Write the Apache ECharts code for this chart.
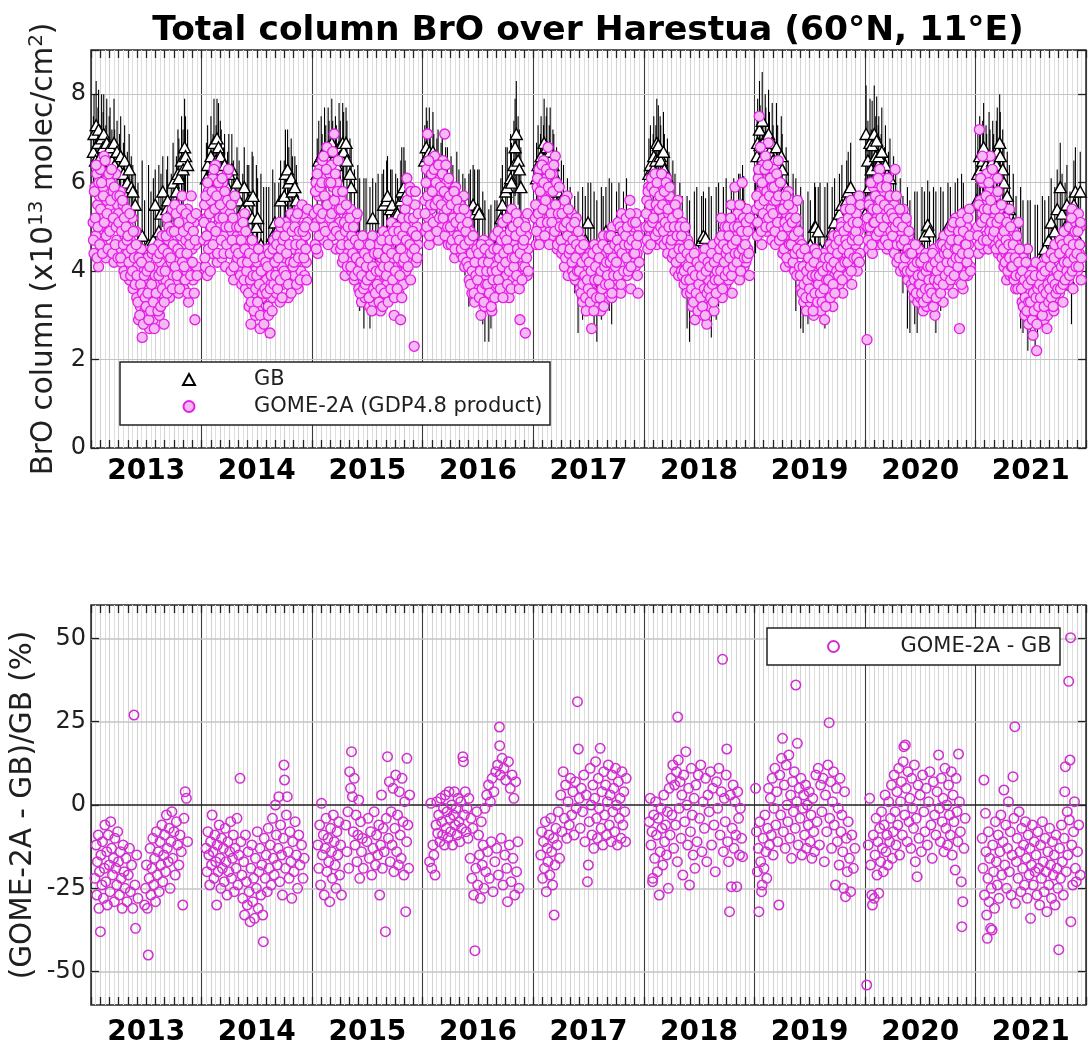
<!DOCTYPE html>
<html>
<head>
<meta charset="utf-8">
<title>Total column BrO over Harestua</title>
<script src="https://cdn.jsdelivr.net/npm/echarts@6/dist/echarts.min.js"></script>
<style>
  html, body { margin: 0; padding: 0; background: #ffffff; }
  #chart { width: 1089px; height: 1048px; }
</style>
</head>
<body>
<div id="chart"></div>
<script>
// ---------------------------------------------------------------
// Harestua BrO total columns: ground-based (GB) vs GOME-2A GDP4.8
// ---------------------------------------------------------------
const YEARS = [2013, 2014, 2015, 2016, 2017, 2018, 2019, 2020, 2021];
const COLUMN_TICKS = [0, 2, 4, 6, 8];          // x10^13 molec/cm^2
const DIFF_TICKS = [-50, -25, 0, 25, 50];      // percent

// GOME-2A overpass columns. Two samplings per year, each one value every 3 days:
// set "a" starts on day 8, set "b" on day 9.
const GOME_FIRST_DOY_A = 8;
const GOME_FIRST_DOY_B = 9;
const GOME_STEP_DAYS = 3;

const gome2013 = [
  5.1, 4.4, 5.9, 4.8, 6.2, 5.5, 4.1, 5.7,
  6.3, 5.2, 4.6, 5.9, 6.6, 5.0, 4.3, 5.6, 6.1, 4.9,
  5.4, 6.0, 4.5, 5.1, 5.8, 4.2, 5.3, 6.2, 4.7, 5.5,
  5.3, 4.5, 5.8, 4.2, 5.0, 5.5, 4.0, 4.8, 4.4, 5.4,
  4.4, 5.0, 3.8, 4.7, 4.1, 5.2, 3.6, 4.5, 4.2, 4.9,
  3.4, 4.1, 2.9, 3.8, 3.2, 4.5, 2.5, 3.6, 4.0, 3.1,
  3.7, 3.0, 4.3, 3.4, 2.7, 3.9, 3.3, 4.4, 2.9, 3.6, 3.8,
  4.1, 3.3, 3.7, 4.6, 3.0, 4.2, 3.5, 4.8, 3.8, 2.8,
  4.5, 3.8, 5.2, 4.1, 4.7, 3.4, 4.9, 4.2, 5.4, 3.9,
  4.6, 5.5, 3.7, 5.0, 4.3, 3.5, 5.2, 4.8, 4.0, 5.7,
  4.4, 3.6, 5.1, 4.7, 4.0, 5.4, 3.3, 4.8, 4.2, 5.7,
  4.5, 3.8, 5.1, 2.9, 4.6, 4.1
];
const gome2013b = [
  4.7, 5.8, 5.2, 6.4, 4.3, 5.0, 6.0, 4.6,
  5.4, 6.0, 4.4, 5.7, 5.1, 6.5, 4.8, 5.3, 4.5, 6.2,
  4.9, 5.6, 6.3, 4.4, 5.2, 5.9, 4.6, 5.0, 5.7, 4.3,
  5.1, 5.7, 4.3, 4.9, 5.6, 4.6, 5.2, 3.9, 5.0, 4.7,
  4.8, 4.2, 5.3, 3.9, 4.5, 4.0, 4.9, 4.3, 3.7, 4.6,
  3.9, 3.3, 4.3, 3.0, 3.7, 4.2, 3.5, 2.8, 3.9, 3.4,
  3.2, 4.0, 3.5, 2.9, 4.1, 3.1, 3.7, 4.5, 3.3, 2.7, 3.9,
  3.5, 4.3, 3.1, 3.9, 4.4, 3.2, 4.0, 3.6, 4.5, 3.3,
  4.0, 4.8, 3.5, 4.4, 5.0, 3.7, 4.3, 4.9, 3.6, 4.6,
  4.9, 4.1, 5.3, 3.9, 4.5, 5.1, 3.6, 4.4, 5.4, 4.2,
  4.9, 4.1, 3.8, 5.3, 4.4, 3.5, 5.0, 4.6, 3.9, 5.2,
  4.2, 4.9, 3.5, 4.7, 5.3, 3.9
];
const gome2014 = [
  4.7, 5.5, 4.1, 5.2, 3.9, 5.8, 4.6, 5.0,
  5.6, 4.4, 6.1, 5.0, 4.7, 6.4, 5.3, 4.2, 5.9, 5.1,
  5.0, 5.7, 4.3, 6.0, 4.8, 5.4, 4.1, 5.2, 6.2, 4.6,
  4.5, 5.3, 4.0, 4.9, 5.6, 3.8, 4.7, 5.1, 4.2, 4.8,
  4.7, 4.0, 5.2, 4.4, 3.7, 4.9, 4.2, 5.3, 3.6, 4.6,
  3.9, 4.5, 3.2, 4.2, 2.8, 3.7, 4.6, 3.5, 4.0, 3.0,
  3.6, 4.2, 3.1, 3.9, 2.7, 4.4, 3.4, 3.8, 3.0, 4.1, 3.5,
  3.8, 4.5, 3.2, 4.0, 2.6, 3.7, 4.3, 3.4, 4.7, 3.9,
  4.2, 3.5, 4.8, 3.9, 4.4, 3.3, 5.0, 4.1, 3.7, 4.6,
  4.3, 5.1, 3.8, 4.6, 3.4, 4.9, 4.0, 5.3, 3.6, 4.5,
  4.5, 3.9, 5.2, 4.2, 4.8, 3.6, 5.4, 4.4, 4.0, 5.0,
  4.6, 5.3, 3.9, 4.8, 4.2, 5.1
];
const gome2014b = [
  5.1, 4.3, 5.7, 4.8, 6.0, 4.5, 5.3, 4.0,
  5.0, 5.8, 4.6, 6.3, 5.4, 4.9, 5.7, 4.4, 6.0, 5.2,
  5.5, 4.7, 6.1, 5.2, 4.4, 5.8, 5.0, 4.6, 5.6, 6.3,
  5.0, 4.4, 5.5, 4.7, 5.2, 4.1, 5.7, 4.5, 5.0, 4.3,
  4.4, 5.0, 3.9, 4.7, 4.2, 5.1, 3.8, 4.5, 4.9, 4.0,
  4.2, 3.5, 4.4, 3.8, 3.3, 4.7, 3.9, 3.1, 4.3, 3.6,
  3.9, 3.3, 4.5, 3.7, 3.0, 4.0, 3.5, 4.3, 2.8, 3.6, 4.2,
  3.5, 4.1, 3.0, 4.4, 3.6, 3.9, 3.1, 4.5, 3.7, 4.2,
  3.9, 4.6, 3.6, 4.3, 5.1, 3.8, 4.5, 3.4, 4.7, 4.0,
  4.8, 3.9, 4.4, 5.0, 3.7, 4.6, 4.2, 3.5, 4.9, 4.1,
  4.2, 5.0, 4.6, 3.7, 5.3, 4.3, 4.9, 3.8, 4.6, 5.5,
  4.9, 4.3, 5.0, 4.5, 3.8, 5.4
];
const gome2015 = [
  5.3, 4.6, 6.0, 5.1, 4.4, 5.7, 6.3, 4.9,
  5.8, 6.5, 5.0, 4.7, 6.1, 5.4, 6.8, 4.9, 5.6, 6.2,
  5.5, 6.4, 4.8, 5.9, 7.1, 5.2, 4.5, 6.0, 5.7, 5.0,
  5.1, 4.5, 5.6, 4.2, 4.9, 5.4, 3.9, 4.7, 5.2, 4.4,
  4.9, 4.3, 5.4, 4.0, 4.7, 5.1, 3.8, 4.5, 5.2, 4.2,
  4.3, 3.6, 4.7, 4.0, 3.3, 4.5, 3.8, 4.1, 3.4, 4.6,
  4.0, 3.5, 4.4, 3.2, 4.2, 3.7, 4.8, 3.3, 3.9, 4.5, 3.6,
  4.1, 3.4, 4.6, 3.8, 3.1, 4.3, 3.6, 4.9, 3.9, 3.3,
  4.2, 3.7, 4.8, 3.4, 4.5, 3.9, 5.1, 3.5, 4.3, 3.0,
  4.4, 3.8, 5.0, 4.1, 3.5, 4.7, 2.9, 4.2, 5.2, 3.7,
  4.6, 5.4, 4.0, 6.1, 4.8, 4.3, 5.9, 3.8, 5.1, 4.5,
  4.9, 2.3, 5.5, 4.2, 5.0, 4.6
];
const gome2015b = [
  5.0, 5.8, 4.5, 6.2, 5.4, 4.8, 5.9, 5.2,
  6.0, 5.3, 6.6, 5.7, 4.9, 6.3, 5.5, 4.6, 6.0, 5.2,
  6.0, 5.3, 6.7, 5.0, 5.6, 6.2, 4.9, 5.8, 6.5, 5.4,
  4.8, 5.4, 4.6, 5.8, 4.3, 5.1, 4.9, 5.5, 4.1, 5.0,
  4.6, 5.2, 4.1, 4.8, 4.4, 5.0, 3.9, 4.7, 4.3, 5.3,
  4.0, 4.6, 3.5, 4.2, 3.9, 4.8, 3.6, 4.4, 3.7, 4.1,
  3.8, 4.3, 3.4, 4.6, 3.9, 3.1, 4.1, 3.6, 4.4, 3.5, 4.0,
  3.7, 4.4, 3.3, 4.0, 3.6, 4.7, 3.2, 4.1, 3.5, 4.3,
  3.9, 4.5, 3.3, 4.1, 4.7, 3.6, 4.4, 3.8, 4.9, 3.4,
  4.0, 4.7, 3.6, 4.3, 4.9, 3.9, 4.5, 3.4, 4.8, 4.2,
  4.3, 5.0, 4.7, 5.6, 4.1, 5.2, 4.6, 5.8, 4.4, 4.9,
  5.2, 4.5, 5.8, 4.8, 4.3, 5.3
];
const gome2016 = [
  5.6, 4.9, 6.3, 7.1, 5.2, 4.6, 6.0, 5.4,
  6.2, 5.5, 4.8, 6.6, 5.9, 5.1, 6.4, 4.7, 5.7, 6.1,
  5.8, 5.0, 6.5, 5.3, 7.1, 4.9, 6.0, 5.6, 4.6, 5.4,
  5.2, 4.6, 5.7, 4.9, 5.4, 4.3, 5.9, 5.0, 4.5, 5.3,
  5.0, 5.5, 4.4, 5.2, 4.7, 5.7, 4.1, 4.9, 5.3, 4.3,
  4.4, 3.8, 4.9, 4.1, 3.5, 4.6, 4.0, 3.3, 4.3, 3.7,
  4.1, 3.5, 4.5, 3.8, 3.0, 4.3, 3.6, 4.7, 3.2, 3.9, 4.2,
  4.0, 3.4, 4.6, 3.7, 4.3, 3.1, 4.1, 3.6, 4.8, 3.9,
  4.3, 3.7, 4.9, 4.0, 3.5, 4.6, 3.9, 5.1, 4.2, 3.6,
  4.5, 3.9, 5.2, 4.2, 3.4, 4.8, 4.0, 5.4, 3.8, 4.4,
  4.6, 4.0, 5.3, 3.7, 4.9, 4.3, 2.9, 5.0, 4.1, 4.7,
  4.4, 5.1, 2.6, 4.8, 3.9, 4.5
];
const gome2016b = [
  5.3, 6.0, 5.0, 5.7, 6.5, 4.8, 5.5, 6.2,
  5.8, 5.1, 6.3, 5.5, 6.0, 4.9, 5.6, 6.4, 5.2, 5.9,
  5.5, 6.2, 5.2, 5.8, 4.8, 6.4, 5.4, 5.0, 6.1, 5.7,
  5.0, 5.5, 4.7, 5.2, 5.8, 4.5, 5.1, 5.6, 4.8, 5.4,
  4.7, 5.2, 4.5, 5.0, 4.3, 5.4, 4.6, 4.9, 4.2, 5.1,
  4.1, 4.7, 3.7, 4.4, 4.0, 4.8, 3.5, 4.2, 3.9, 4.5,
  3.8, 4.4, 3.4, 4.0, 4.6, 3.6, 4.2, 3.3, 4.5, 3.7, 4.0,
  3.7, 4.2, 3.5, 4.4, 3.2, 4.0, 3.8, 4.5, 3.4, 4.1,
  4.0, 4.5, 3.8, 4.3, 3.6, 4.7, 4.1, 3.4, 4.4, 4.8,
  4.2, 4.7, 3.7, 4.5, 4.0, 4.9, 3.6, 4.3, 5.0, 4.1,
  4.3, 4.8, 3.9, 4.5, 5.1, 3.6, 4.4, 4.9, 3.8, 4.6,
  4.7, 4.1, 5.0, 4.3, 5.3, 4.0
];
const gome2017 = [
  5.2, 4.6, 5.9, 5.0, 6.3, 4.8, 5.5, 6.0,
  5.7, 6.5, 5.0, 4.7, 6.1, 5.4, 6.8, 5.2, 4.9, 5.8,
  5.5, 6.2, 4.8, 5.3, 6.6, 5.0, 4.5, 5.9, 5.2, 4.7,
  5.0, 4.4, 5.5, 4.7, 4.1, 5.2, 4.6, 5.7, 3.9, 4.8,
  4.8, 4.3, 5.3, 4.0, 5.0, 4.5, 3.8, 5.2, 4.4, 4.1,
  4.2, 3.6, 4.7, 3.9, 3.3, 4.4, 3.8, 4.1, 3.1, 4.5,
  3.9, 3.4, 4.4, 3.7, 2.7, 4.1, 3.5, 4.6, 3.2, 3.8, 4.3,
  4.0, 3.5, 4.5, 3.1, 4.2, 3.7, 4.8, 3.3, 3.9, 4.4,
  4.2, 3.6, 4.8, 3.9, 4.4, 3.4, 5.0, 4.0, 3.7, 4.6,
  4.4, 3.8, 5.1, 4.1, 4.7, 3.5, 5.3, 4.2, 3.9, 4.8,
  4.5, 5.2, 3.9, 4.7, 4.2, 5.6, 3.6, 4.9, 4.3, 5.0,
  4.7, 4.1, 5.3, 4.4, 3.5, 5.0
];
const gome2017b = [
  5.5, 4.9, 6.1, 5.3, 4.6, 5.8, 5.1, 6.4,
  5.4, 6.0, 4.8, 5.6, 6.3, 5.1, 5.9, 4.6, 6.2, 5.3,
  5.1, 5.8, 6.4, 4.9, 5.5, 6.0, 4.6, 5.3, 5.9, 5.0,
  4.7, 5.3, 4.5, 5.0, 5.6, 4.3, 5.1, 4.8, 5.4, 4.4,
  4.5, 5.0, 4.2, 4.7, 3.9, 5.1, 4.3, 4.6, 4.0, 4.9,
  4.0, 4.5, 3.5, 4.2, 3.7, 4.6, 3.9, 3.4, 4.3, 3.8,
  3.6, 4.2, 3.3, 4.0, 3.5, 4.4, 3.1, 3.8, 4.1, 3.4, 4.5,
  3.8, 4.3, 3.4, 4.0, 3.6, 4.6, 3.2, 4.1, 3.7, 4.2,
  3.9, 4.5, 3.7, 4.2, 4.8, 3.5, 4.3, 3.9, 4.6, 4.1,
  4.2, 4.7, 3.9, 4.5, 5.0, 3.7, 4.4, 4.9, 4.0, 4.6,
  4.8, 4.3, 5.0, 4.0, 4.6, 5.3, 4.1, 4.7, 5.1, 4.4,
  4.4, 5.1, 4.6, 3.9, 4.8, 4.2
];
const gome2018 = [
  5.0, 5.6, 4.5, 5.9, 5.2, 4.8, 6.1, 5.4,
  5.5, 4.9, 6.2, 5.3, 4.6, 5.8, 5.1, 6.0, 4.7, 5.6,
  5.2, 5.9, 4.6, 5.5, 4.9, 6.1, 4.4, 5.3, 5.7, 4.8,
  4.9, 4.3, 5.4, 4.6, 4.0, 5.1, 4.5, 5.6, 3.9, 4.7,
  4.6, 4.0, 5.1, 4.3, 3.7, 4.8, 4.2, 3.5, 4.7, 3.9,
  4.0, 3.5, 4.5, 3.2, 4.2, 3.7, 2.9, 4.1, 3.4, 3.8,
  3.9, 3.3, 4.4, 3.6, 4.1, 3.0, 3.8, 4.5, 3.4, 2.8, 4.0,
  3.8, 4.3, 3.2, 4.0, 3.6, 4.6, 3.1, 3.9, 4.4, 3.5,
  4.1, 3.6, 4.7, 3.9, 5.2, 3.4, 4.4, 4.0, 5.0, 3.7,
  4.3, 5.0, 3.8, 4.6, 4.1, 5.5, 3.5, 4.8, 4.2, 5.9,
  4.5, 4.0, 5.3, 4.7, 3.8, 5.1, 4.3, 6.0, 4.6, 4.1,
  4.8, 4.2, 5.4, 4.5, 5.0, 3.9
];
const gome2018b = [
  5.3, 4.7, 5.8, 5.0, 5.5, 4.6, 5.9, 5.1,
  5.2, 5.8, 4.8, 5.5, 6.0, 4.9, 5.4, 5.7, 5.0, 6.2,
  5.5, 4.9, 5.8, 5.1, 6.0, 4.7, 5.4, 5.0, 5.9, 4.6,
  4.7, 5.2, 4.4, 5.0, 5.5, 4.2, 4.8, 5.3, 4.5, 5.0,
  4.3, 4.8, 3.9, 4.5, 4.0, 5.0, 3.8, 4.4, 4.1, 4.6,
  3.8, 4.3, 3.6, 4.0, 3.3, 4.4, 3.9, 3.5, 4.2, 3.1,
  3.7, 4.1, 3.4, 3.9, 3.2, 4.3, 3.6, 3.0, 4.0, 3.5, 4.2,
  3.6, 4.1, 3.4, 4.4, 3.7, 3.3, 4.2, 3.8, 3.5, 4.0,
  4.3, 3.8, 4.5, 4.0, 4.8, 3.6, 4.6, 4.2, 3.9, 4.4,
  4.5, 4.0, 4.8, 4.3, 5.2, 3.9, 4.6, 4.1, 5.0, 4.4,
  4.7, 4.2, 5.0, 4.4, 5.5, 4.0, 4.9, 4.5, 5.2, 4.3,
  4.6, 5.1, 4.3, 4.9, 4.4, 5.2
];
const gome2019 = [
  5.4, 4.8, 6.1, 7.5, 5.1, 5.8, 4.6, 6.4,
  5.9, 5.2, 6.6, 4.9, 5.6, 6.9, 5.0, 6.2, 5.4, 4.7,
  5.6, 6.3, 5.0, 4.6, 5.9, 5.3, 6.5, 4.8, 5.5, 5.1,
  5.0, 4.4, 5.6, 4.8, 4.1, 5.3, 4.6, 5.8, 4.2, 4.9,
  4.9, 4.3, 5.4, 4.6, 4.0, 5.1, 4.4, 5.6, 3.9, 4.7,
  4.1, 3.6, 4.6, 3.9, 3.3, 4.4, 3.8, 3.1, 4.2, 3.5,
  3.9, 3.3, 4.3, 3.6, 4.0, 3.0, 4.5, 3.7, 3.2, 4.1, 3.8,
  3.7, 4.2, 3.1, 3.9, 3.5, 4.4, 2.9, 4.0, 3.4, 3.8,
  4.0, 3.5, 4.6, 3.8, 4.3, 3.2, 4.8, 3.9, 4.4, 3.6,
  4.2, 4.8, 3.7, 4.5, 4.0, 5.1, 3.5, 4.6, 4.3, 5.4,
  4.4, 3.9, 5.2, 4.6, 4.1, 5.6, 3.7, 4.8, 4.3, 5.0,
  4.6, 5.3, 4.0, 4.9, 5.7, 4.4
];
const gome2019b = [
  5.7, 5.1, 6.3, 5.5, 6.8, 4.9, 6.0, 5.3,
  5.6, 6.3, 5.0, 5.8, 6.4, 5.2, 5.7, 6.1, 5.0, 5.9,
  5.3, 5.9, 4.9, 5.6, 6.2, 5.1, 5.7, 4.7, 6.0, 5.4,
  4.8, 5.4, 4.5, 5.1, 5.7, 4.3, 5.0, 5.5, 4.6, 5.2,
  4.6, 5.1, 4.2, 4.8, 4.4, 5.2, 3.9, 4.5, 4.9, 4.1,
  3.9, 4.4, 3.5, 4.1, 3.7, 4.5, 3.4, 4.0, 3.8, 4.3,
  3.6, 4.1, 3.4, 3.9, 3.1, 4.2, 3.5, 3.9, 4.4, 3.3, 3.7,
  3.9, 3.5, 4.1, 3.3, 4.0, 3.6, 4.3, 3.2, 3.8, 4.1,
  3.8, 4.3, 3.4, 4.1, 4.5, 3.7, 4.2, 3.5, 4.6, 4.0,
  4.4, 3.9, 4.7, 4.1, 5.0, 3.8, 4.5, 4.9, 4.2, 4.7,
  4.6, 4.2, 5.0, 4.4, 5.4, 4.0, 4.7, 5.1, 4.3, 4.8,
  4.9, 4.3, 5.1, 4.7, 4.2, 5.5
];
const gome2020 = [
  2.45, 5.0, 4.5, 5.6, 4.8, 5.3, 4.4, 5.9,
  5.4, 4.9, 6.0, 5.2, 4.6, 5.7, 6.3, 5.0, 4.7, 5.5,
  5.3, 5.8, 4.8, 5.5, 4.5, 6.1, 5.0, 5.6, 4.6, 5.2,
  5.0, 4.5, 5.5, 6.3, 4.8, 4.2, 5.3, 4.6, 5.1, 4.0,
  4.9, 4.3, 5.4, 4.6, 4.0, 5.1, 4.5, 3.8, 4.8, 4.2,
  4.2, 3.7, 4.6, 3.9, 3.4, 4.4, 3.8, 4.1, 3.3, 4.5,
  3.9, 3.4, 4.3, 3.7, 3.1, 4.1, 3.6, 4.4, 3.2, 3.8, 4.0,
  3.8, 4.3, 3.3, 4.0, 3.5, 4.5, 3.0, 3.9, 4.2, 3.6,
  4.0, 3.6, 4.6, 3.9, 4.3, 3.3, 4.8, 4.1, 3.7, 4.4,
  4.2, 3.7, 4.9, 4.4, 3.9, 5.0, 3.5, 4.6, 4.1, 5.2,
  4.3, 3.8, 4.9, 2.7, 4.5, 4.0, 5.3, 3.6, 4.7, 4.2,
  4.4, 5.0, 3.9, 4.6, 5.4, 4.1
];
const gome2020b = [
  5.2, 4.7, 5.5, 5.0, 6.0, 4.6, 5.4, 5.1,
  5.1, 5.7, 4.8, 5.4, 6.1, 4.9, 5.6, 5.2, 5.9, 4.6,
  5.0, 5.5, 4.7, 5.9, 5.2, 4.6, 5.4, 5.7, 4.9, 5.3,
  4.8, 5.2, 4.4, 5.0, 5.7, 4.6, 5.1, 4.3, 5.4, 4.7,
  4.6, 5.0, 4.1, 4.7, 4.3, 5.2, 4.0, 4.5, 4.9, 4.4,
  4.0, 4.4, 3.6, 4.1, 3.8, 4.6, 3.5, 4.2, 3.9, 3.7,
  3.7, 4.2, 3.5, 3.9, 3.3, 4.3, 3.6, 4.0, 3.4, 4.1, 3.8,
  3.6, 4.1, 3.5, 4.4, 3.2, 3.8, 4.2, 3.4, 4.0, 3.7,
  3.8, 4.3, 3.5, 4.1, 4.6, 3.7, 4.4, 3.9, 4.5, 4.2,
  4.4, 4.0, 4.6, 3.8, 4.7, 4.2, 5.1, 3.9, 4.5, 4.3,
  4.5, 4.1, 4.7, 4.3, 5.1, 3.7, 4.4, 4.9, 3.9, 4.6,
  4.6, 4.2, 5.2, 4.4, 4.8, 4.0
];
const gome2021 = [
  5.0, 4.4, 7.2, 5.6, 4.7, 5.3, 6.0, 4.5,
  5.5, 4.8, 6.2, 5.1, 4.5, 5.8, 6.6, 4.9, 5.3, 4.6,
  5.2, 4.6, 5.7, 4.9, 6.1, 4.4, 5.4, 4.8, 5.0, 4.3,
  4.7, 4.1, 5.2, 4.4, 3.8, 4.9, 4.3, 5.4, 3.9, 4.5,
  4.4, 3.9, 4.9, 4.1, 3.6, 4.6, 4.0, 5.1, 3.7, 4.3,
  3.8, 3.3, 4.3, 3.6, 3.0, 4.0, 3.4, 4.5, 2.8, 3.7,
  3.5, 3.0, 4.0, 2.55, 3.7, 3.2, 4.2, 2.2, 3.4, 3.8, 3.1,
  3.6, 3.1, 4.1, 3.4, 2.9, 3.8, 3.3, 4.3, 3.0, 3.5,
  3.8, 3.3, 4.4, 3.6, 4.0, 3.1, 4.6, 3.5, 3.9, 3.4,
  4.0, 3.5, 4.7, 3.8, 4.3, 3.3, 4.9, 4.1, 3.7, 4.5,
  4.3, 3.8, 5.0, 4.5, 4.0, 5.4, 3.6, 4.8, 4.2, 5.1,
  4.6, 4.0, 5.3, 4.4, 5.0, 3.8
];
const gome2021b = [
  4.8, 5.5, 4.6, 6.1, 5.1, 6.6, 4.7, 5.4,
  5.2, 5.7, 4.7, 5.4, 6.0, 4.9, 5.6, 5.1, 6.3, 4.8,
  4.9, 5.4, 4.5, 5.1, 5.8, 4.7, 5.2, 4.6, 5.5, 4.8,
  4.5, 4.9, 4.2, 4.7, 5.1, 4.0, 4.6, 4.3, 5.0, 4.1,
  4.1, 4.6, 3.8, 4.3, 3.9, 4.8, 3.6, 4.2, 4.5, 3.9,
  3.6, 4.0, 3.2, 3.8, 3.4, 4.2, 3.1, 3.7, 3.3, 3.9,
  3.3, 3.8, 2.9, 3.5, 3.1, 3.9, 3.4, 2.8, 3.6, 3.2, 3.7,
  3.4, 3.9, 3.0, 3.6, 3.2, 4.0, 3.5, 2.7, 3.7, 3.3,
  3.6, 4.1, 3.4, 3.8, 3.2, 4.3, 3.7, 3.5, 4.0, 3.6,
  3.9, 4.4, 3.6, 4.1, 4.6, 3.7, 4.2, 3.8, 4.5, 4.0,
  4.2, 4.7, 3.9, 4.4, 5.2, 4.0, 4.6, 4.3, 4.9, 4.1,
  4.4, 4.9, 4.1, 4.6, 5.1, 4.3
];

// Ground-based zenith-sky columns: [day of year, column, uncertainty]
const gb2013 = [
  [9,6.7,0.8],[11,7.1,0.9],[16,6.5,0.7],[18,7.3,1.0],[24,6.9,0.8],[26,7.2,0.9],[33,6.6,0.7],
  [36,7.0,1.0],[41,6.8,0.8],[43,7.1,0.9],[50,6.6,0.7],[53,6.9,1.0],[61,6.7,0.8],
  [64,6.8,0.9],[70,6.5,0.7],[77,6.9,1.0],[79,6.4,0.8],[87,6.7,0.7],[95,6.3,0.8],
  [99,6.6,0.9],[108,6.2,0.7],[112,6.5,0.8],[121,6.0,0.7],[127,6.3,0.8],[134,5.9,0.7],[139,5.8,0.6],[147,5.5,0.7],
  [156,4.5,1.5],[170,4.8,1.7],[178,4.2,1.4],[191,4.6,1.8],[199,4.3,1.5],[207,4.7,1.4],
  [213,5.5,0.8],[225,4.9,1.5],[232,5.3,0.9],[238,5.8,0.8],[251,5.4,0.9],[254,5.6,1.0],[266,5.4,0.8],
  [272,6.0,0.9],[283,5.8,0.8],[288,6.2,1.0],[291,6.1,0.9],[300,6.5,1.0],[305,6.3,0.9],[310,6.8,1.1],
  [313,6.6,0.9],[320,6.4,0.8]
];
const gb2014 = [
  [17,6.1,0.8],[21,6.4,0.9],[29,5.9,0.7],[32,6.6,0.9],[39,6.3,0.8],[42,6.9,1.0],[49,6.5,0.8],
  [52,7.0,0.9],[57,6.8,1.0],[63,6.6,0.8],[66,6.3,0.9],[74,6.0,0.8],[77,6.4,0.7],[87,5.9,0.8],
  [91,6.2,0.9],[101,6.3,0.8],[106,5.8,0.7],[118,6.0,0.8],
  [125,5.6,0.9],[137,5.4,0.8],[142,5.9,0.9],[152,5.4,1.0],[157,5.6,0.8],[168,5.2,1.5],[171,5.7,0.9],
  [182,5.0,1.4],[186,5.2,0.9],[197,4.6,1.6],[206,4.4,1.5],
  [215,4.2,1.7],[223,4.5,1.4],[236,4.8,1.5],[243,5.1,0.9],[256,5.0,1.0],[262,5.6,0.9],[274,5.7,0.8],
  [278,6.2,1.0],[285,6.3,0.9],[289,6.0,0.8],[297,6.1,0.9],[301,5.8,0.8],[309,5.9,0.7],[314,5.6,0.8]
];
const gb2015 = [
  [18,6.2,0.8],[23,6.5,0.9],[31,6.6,0.9],[34,6.3,0.8],[42,6.7,1.0],[46,6.5,0.8],[54,6.8,0.9],
  [57,6.6,0.8],[66,6.9,1.0],[69,6.5,0.9],[78,6.7,0.8],[81,6.4,0.9],[90,6.8,1.0],[94,6.6,0.8],
  [102,6.9,0.9],[105,6.7,0.9],[113,6.9,0.8],[116,6.5,0.9],[126,6.2,0.8],[130,5.9,0.9],
  [141,5.3,1.0],[152,4.8,1.6],[158,4.6,1.5],[172,4.4,1.7],[179,4.7,1.4],[192,4.3,1.6],[201,5.2,0.9],
  [211,4.5,1.5],[219,4.8,1.4],[232,4.6,1.6],[237,5.5,0.8],[247,5.6,0.9],[250,5.7,0.9],[260,5.4,0.9],
  [265,5.5,0.8],[277,5.3,0.9],[283,5.3,0.8],[294,5.6,0.9],[297,5.8,1.0],[304,5.9,0.9],[308,5.7,0.8]
];
const gb2016 = [
  [8,6.5,0.8],[13,6.8,0.9],[16,6.6,0.8],[23,6.7,1.0],[26,6.4,0.8],[35,6.7,0.9],[38,6.3,0.8],
  [48,6.1,0.9],[52,6.4,0.8],[62,6.0,0.9],[66,6.2,0.8],[77,5.9,0.9],[83,6.0,0.8],[95,5.7,0.9],
  [101,5.5,0.9],[114,5.7,1.0],[121,5.4,0.9],[134,5.2,1.0],[141,5.0,1.1],
  [154,4.7,1.5],[159,5.3,1.0],[168,5.5,0.9],[173,5.3,1.0],[183,5.4,0.9],[188,5.3,1.0],[200,4.3,1.5],
  [207,4.0,1.6],[220,3.9,1.5],[227,4.1,1.4],[240,4.3,1.3],[247,4.6,1.0],
  [260,5.2,0.9],[265,5.5,0.9],[276,5.8,1.0],[281,5.9,0.9],[292,6.1,1.0],[295,6.0,0.9],[303,6.4,1.0],
  [307,6.8,1.1],[311,7.1,1.2],[317,6.5,1.0],[321,6.3,0.9],[326,5.9,0.9]
];
const gb2017 = [
  [12,6.1,0.8],[17,6.4,0.9],[25,6.3,0.8],[27,6.6,0.9],[35,6.5,0.8],[37,6.9,1.0],[44,6.6,0.9],
  [46,6.8,0.9],[54,6.5,0.8],[57,6.7,1.0],[66,6.4,0.8],[69,6.2,0.9],[78,6.0,0.8],[82,5.8,0.9],
  [94,5.6,0.9],[101,5.4,1.0],[114,5.2,0.9],[123,4.9,1.0],[138,4.6,1.1],
  [149,4.2,1.6],[164,4.4,1.5],[173,4.7,1.0],[182,5.1,0.9],[191,4.5,1.5],[202,4.2,1.6],[211,4.0,1.6],
  [226,4.4,1.5],[232,4.7,1.0],[241,4.9,1.0],[252,4.6,1.5],[260,4.4,1.6],[276,4.8,1.0],[284,5.0,1.0],
  [299,4.9,0.9],[309,5.1,1.0]
];
const gb2018 = [
  [18,6.2,0.8],[23,6.4,0.9],[32,6.3,0.8],[34,6.6,0.9],[41,6.5,0.8],[44,6.9,1.0],[49,6.85,0.9],
  [55,6.6,0.9],[57,6.5,0.8],[66,6.7,0.9],[69,6.3,0.8],[79,6.1,0.9],[84,5.8,0.9],[97,5.5,1.0],
  [104,5.2,1.0],[120,4.9,1.1],[128,4.6,1.1],
  [144,4.2,1.5],[152,4.0,1.6],[168,4.3,1.5],[176,4.5,1.4],[192,4.7,1.0],[198,4.8,1.0],[205,4.75,0.9],
  [216,4.3,1.6],[224,4.1,1.6],[240,4.4,1.5],[248,4.6,1.4],[264,4.9,1.0],[273,5.1,1.0],[290,5.0,0.9],
  [298,5.2,0.9],[314,5.3,0.9],[319,5.4,0.8],[327,5.5,0.9],[331,5.35,0.8]
];
const gb2019 = [
  [5,5.2,0.8],[10,6.6,0.9],[12,6.9,1.0],[18,7.2,1.1],[20,6.85,0.9],[27,7.4,1.1],[29,6.6,0.9],
  [37,7.0,1.0],[39,6.8,0.9],[48,7.1,1.0],[51,6.7,0.9],[60,6.9,0.9],[63,6.5,0.8],[74,6.8,1.0],
  [78,6.4,0.9],[90,6.6,0.9],[93,6.3,0.8],[106,5.9,0.9],[113,5.5,1.0],[129,5.2,1.0],
  [138,4.6,1.5],[154,4.3,1.6],[162,4.1,1.5],[178,4.3,1.5],[186,4.6,1.0],[200,5.0,1.0],[203,5.0,0.9],
  [212,4.9,1.0],[218,4.5,1.5],[234,4.3,1.6],[242,4.6,1.4],[258,4.9,1.0],[266,5.1,1.0],[282,5.3,0.9],
  [290,5.5,0.9],[306,5.6,0.9],[311,5.8,0.9],[319,5.9,1.0]
];
const gb2020 = [
  [2,5.3,0.8],[5,7.1,1.1],[9,5.6,0.8],[11,6.5,0.9],[15,5.9,0.9],[18,6.9,1.0],[22,6.3,0.9],
  [25,6.85,1.0],[29,5.7,0.8],[32,7.1,1.1],[37,6.6,0.9],[40,6.95,1.0],[45,6.4,0.9],[47,6.6,0.9],
  [55,6.2,0.9],[57,6.7,1.0],[66,6.0,0.8],[69,6.4,0.9],[79,5.8,0.9],[84,6.1,0.9],[96,5.6,1.0],
  [103,5.3,1.0],[118,5.0,1.1],
  [127,4.6,1.1],[142,4.3,1.6],[150,4.1,1.5],[166,4.3,1.5],[174,4.2,1.6],[190,4.5,1.4],[198,4.8,1.0],
  [209,5.05,1.0],[215,4.9,0.9],[228,4.4,1.5],[236,4.2,1.6],[252,4.5,1.4],[260,4.8,1.0],[276,5.0,1.0],
  [284,4.9,1.0],[300,5.1,0.9],[308,5.2,0.9],[321,5.3,0.9],[327,5.0,1.0]
];
const gb2021 = [
  [6,5.6,0.8],[9,6.2,0.9],[15,6.6,0.9],[17,6.3,0.8],[25,6.5,0.9],[28,6.8,1.0],[36,6.4,0.9],
  [38,6.2,0.9],[46,6.6,1.0],[49,6.3,0.9],[58,6.5,0.9],[61,6.2,0.9],[70,6.4,1.0],[73,6.7,1.0],
  [81,6.9,1.1],[83,6.6,1.0],[91,6.3,0.9],[95,6.0,0.9],[106,5.7,1.0],[113,5.4,1.0],[126,5.1,1.1],
  [135,4.6,1.1],[150,4.3,1.6],[158,4.1,1.5],[174,3.9,1.7],[182,4.1,1.5],[198,3.8,1.7],[206,4.0,1.5],
  [222,4.3,1.4],[230,4.5,1.1],[243,4.7,1.0],[251,5.1,1.0],[263,4.9,1.0],[271,5.4,0.9],[281,5.9,1.0],
  [287,5.3,0.9],[297,5.0,1.0],[303,5.5,0.9],[313,4.8,1.0],[318,3.7,0.9],[326,5.5,1.0],[331,5.8,1.0],
  [341,4.7,1.0],[347,5.8,0.9]
];

// Relative difference (GOME-2A - GB)/GB on coincident days: [day of year, percent]
const diff2013 = [
  [14,-22],[18,-12],[20,-27],[22,-17],[25,-9],[27,-31],[29,-20],[32,-38],[34,-15],[37,-24],[39,-11],
  [42,-28],[45,-19],[47,-6],[50,-23],[53,-14],[55,-30],[58,-9],[61,-18],[64,-26],[66,-5],[69,-13],
  [72,-21],[75,-16],[78,-29],[80,-10],[83,-19],[86,-24],[89,-8],[92,-17],[95,-27],[98,-14],[101,-22],
  [104,-31],[107,-12],[110,-20],[113,-25],[117,-16],[120,-29],[124,-21],[128,-13],[131,-26],[135,-18],
  [139,-31],[143,27],[146,-24],[148,-37],[152,-15],[156,-28],
  [178,-30],[181,-25],[184,-18],[187,-31],[190,-45],[193,-22],[196,-13],[199,-27],[202,-19],[205,-10],
  [208,-24],[211,-16],[214,-29],[217,-8],[220,-21],[223,-14],[226,-26],[229,-11],[232,-18],[235,-6],
  [238,-23],[241,-15],[244,-9],[247,-20],[250,-3],[253,-13],[256,-17],[259,-7],[262,-25],[265,-11],
  [268,-2],[271,-16],[275,-8],[279,-21],[283,-5],[287,-12],[291,-18],[295,-9],[299,-14],[304,-30],
  [308,-4],[312,4],[316,2],[320,-11]
];
const diff2014 = [
  [16,-13],[19,-20],[22,-8],[25,-15],[28,-24],[31,-11],[34,-18],[36,-3],[39,-14],[42,-22],[45,-9],
  [48,-17],[51,-30],[53,-12],[56,-20],[59,-6],[62,-16],[65,-25],[67,-10],[70,-19],[73,-13],[76,-23],
  [79,-7],[82,-17],[85,-27],[88,-11],[91,-20],[94,-14],[97,-5],[100,-22],[103,-16],[106,-9],[109,-26],
  [112,-13],[115,-19],[118,-4],[121,-24],[124,-15],[128,8],[131,-11],[134,-21],[137,-28],[140,-17],
  [143,-33],[146,-9],[149,-23],[152,-30],[155,-14],[158,-26],[161,-35],[164,-19],[167,-12],[170,-29],
  [173,-22],[176,-34],[179,-16],[182,-25],[185,-8],[188,-31],[191,-20],[194,-13],[197,-27],[200,-18],
  [203,-33],[205,-41],[208,-10],[211,-22],[214,-15],[218,-26],[221,-7],[224,-19],[228,-12],[231,-24],
  [235,-4],[238,-16],[241,-21],[245,0],[248,-9],[251,-18],[254,-13],[256,2.5],[259,-23],[262,-6],
  [265,-15],[268,-27],[271,-10],[273,12],[275,7.5],[278,-19],[281,-3],[284,2.5],[287,-14],[290,-22],
  [293,-8],[296,-17],[299,-28],[302,-11],[306,-20],[310,-5],[314,-15],[318,-25],[322,-9],[326,-18],
  [331,-12],[336,-22],[340,-16]
];
const diff2015 = [
  [20,-12],[23,-19],[26,-6],[29,-24],[32,0.5],[35,-15],[38,-9],[41,-27],[44,-13],[47,-4],[50,-20],
  [53,-10],[56,-17],[59,-29],[62,-7],[65,-14],[68,-22],[71,-3],[74,-11],[77,-18],[80,-25],[83,-8],
  [86,-15],[89,-5],[92,-21],[95,-12],[98,-27],
  [112,-6],[116,-14],[119,-2],[122,-19],[125,10],[128,5],[131,16],[134,2.5],[137,-8],[140,8],[143,-12],
  [146,-3],[149,-17],[152,-9],[155,1.5],[158,-22],[161,-5],[164,-14],[167,-10],[170,-19],
  [182,-11],[186,-4],[190,-16],[194,-8],[198,-21],[202,-13],[206,-2],[210,-18],[214,-9],[218,-15],
  [221,-6],[224,-27],[227,-12],[230,3],[233,-19],[236,-7],[239,-14],[243,-38],[246,-4],[250,14.5],
  [253,-10],[256,7],[259,-17],[262,-2],[265,-12],[268,5],[271,-20],[274,-7],[277,9],[280,-14],[283,-3],
  [286,-18],[289,4],[292,-9],[295,-16],[298,8],[301,-5],[304,-21],[307,1],[310,-32],[313,-11],[314,14],
  [317,-6],[320,-19],[323,3]
];
const diff2016 = [
  [24,-17],[28,0.5],[31,-19],[35,-12],[38,-15],[42,-21],[45,-6],[48,1],[51,-8.5],[54,-3],[58,-11],
  [61,2],[64,-5],[67,-9],[70,-1],[73,-12],[76,3],[79,-7],[82,-2],[85,-10],[88,4],[91,-4],[94,-8],
  [97,0],[100,-12],[103,-3],[106,4],[109,-6],[112,-1],[115,-9],[118,2],[121,-5],[124,-11],[127,1],
  [130,-7],[134,14.5],[136,13],[139,-3],[142,4],[145,-8],[148,-1],[151,-10],[154,2],
  [158,-16],[161,-4],[164,-22],[167,-7],[170,-27],[174,-43.7],[177,-19],[180,-2],[183,-24],[186,-9],
  [189,-15],[192,-28],[195,-5],[198,-18],[201,-12],[204,-25],[207,-1],[210,-20],
  [213,3],[216,-14],[219,6],[222,-22],[225,1],[228,-11],[231,8],[234,-26],[237,4],[240,-17],[243,10],
  [246,-13],[249,12],[252,-21],[255,23.4],[256,17.8],[258,9],[261,-10],[264,14],[267,-24],[270,11],
  [273,-15],[276,7.5],[279,-19],[282,-29],[285,13],[288,-12],[291,5],[294,-23],[297,9],[300,-16],
  [303,2],[306,-27],[309,7],[312,-20],[316,-11],[320,-25]
];
const diff2017 = [
  [26,-15],[29,-8],[32,-22],[35,-11],[38,-19],[41,-5],[44,-26],[47,-13],[50,-17],[53,-9],[56,-21],
  [59,-4],[62,-14],[65,-24],[68,-10],[70,-33],[73,-18],[76,-7],[80,-12],[84,-2],[88,-16],[92,3],
  [96,-8],[100,10],[104,-4],[108,6],[112,-10],[116,1],[120,-6],[124,8],[128,-3],[132,4],[136,-9],
  [140,7],[143,-1],[147,31],[150,16.8],[153,2],[156,-7],[160,5],[164,-2],[168,9],[172,-11],[176,3],
  [180,-23],[183,-18],[186,-5],[189,11],[192,0],[195,-9],[198,6],[201,-13],[204,2],[207,13],[210,-4],
  [213,-10],[216,8],[219,-1],[222,17],[225,-7],[228,4],[231,-12],[234,10],[237,-3],[240,6],[243,-9],
  [246,1],[249,12],[252,-6],[255,3],[258,-11],[261,9],[264,-2],[267,5],[270,-8],[273,11],[276,0],
  [279,-12],[282,7],[285,-4],[288,2],[291,-10],[294,10],[297,-6],[300,4],[303,-2],[306,-11],[308,8]
];
const diff2018 = [
  [19,-5],[22,2],[25,-12],[28,-8],[30,-23],[31,-22],[34,-3],[37,-16],[40,1],[43,-9],[46,-20],[49,-4],
  [52,-27],[55,-14],[58,-1],[61,-7],[64,-18],[67,3],[70,-11],[73,-6],[76,-15],[79,-2],[82,-25],[85,5],
  [88,-9],[91,8],[94,-3],[97,12],[100,-13],[103,6],[106,-6],[109,10],[112,-17],[113,26.4],[115,13.5],
  [118,-1],[121,7],[124,-10],[127,3],[130,-21],[133,9],[136,-5],[140,16],[143,0],[146,-12],[149,5],
  [152,-24],[155,-8],[158,11],[161,-3],[164,-15],[167,2],[170,-19],[173,6],
  [177,-11],[181,9],[185,-4],[189,12],[193,-14],[197,1],[201,-7],[205,8],[209,-17],[213,3],[217,-2],
  [221,10],[225,-12],[229,5],[233,-6],[237,-20],[241,7],[245,-1],[249,11],[253,-9],[257,4],[261,43.7],
  [264,-14],[267,2],[270,-5],[273,9],[275,16.8],[278,-11],[281,-17],[284,-32],[287,3],[290,-24.5],
  [293,-7],[296,6],[299,-13],[302,1],[305,-9],[308,-24.5],[311,4],[314,-4],[317,-15],[320,-1],
  [324,-10],[327,-15.5]
];
const diff2019 = [
  [5,5],[8,-8],[11,-20],[14,-13],[16,-32],[19,-5],[22,-17],[25,-26],[27,-24],[30,-10],[33,-19],[36,-3],
  [39,-14],[42,-22],[45,-7],[48,5],[51,-12],[54,2],[57,-9],[60,8],[63,-15],[66,-1],[69,11],[72,-6],
  [75,4],[78,-11],[82,-30],[85,9],[88,-3],[91,14],[94,20],[97,-8],[100,6],[103,-13],[106,12],[109,0],
  [112,-5],[115,15],[118,-10],[121,3],[124,-16],[127,7],[130,-2],[133,10],[136,-7],[138,36],[141,1],
  [143,18.5],[146,-12],[149,5],[152,-4],[155,8],[158,-15],[161,-1],[164,3],[167,-9],[170,6],[173,-13],
  [176,0],[179,-6],[182,4],[185,-11],[188,-3],[191,-16],[194,2],[197,-8],[200,-14],
  [204,9],[208,-5],[212,11],[216,-12],[220,6],[224,-2],[228,8],[232,-17],[236,3],[240,-8],[244,12],
  [248,24.7],[250,-4],[253,7],[256,-13],[259,1],[262,10],[265,-6],[269,-24],[272,5],[275,-11],[278,-1],
  [281,-18],[284,8],[287,-8],[290,-3],[293,-14],[296,-25],[299,4],[302,-27.5],[305,-10],[308,-20],
  [311,-5],[315,-16],[319,-26],[323,-9],[328,-19],[333,-13]
];
const diff2020 = [
  [7,-54],[12,-12],[17,2],[20,-18],[24,-27],[26,-30],[29,-9],[32,-28],[35,-15],[38,-4],[41,-21],
  [44,-11],[47,-26.5],[50,-7],[53,-17],[56,-2],[59,-13],[62,-20],[65,-6],[68,3],[71,-14],[74,-9],
  [77,-18],[80,1],[83,-11],[86,-4],[89,6],[92,-16],[95,-8],[98,9],[101,-2],[104,-12],[107,4],[110,-6],
  [113,11],[116,-15],[119,1],[122,7],[125,-9],[128,13],[130,17.5],[133,-3],[135,18],[138,5],[141,-11],
  [144,10],[147,-5],[150,2],[153,-13],[156,8],[159,-1],[162,-7],[165,12],[168,-17],
  [171,-4],[174,-21.5],[177,6],[180,-10],[184,3],[188,-14],[192,9],[196,-2],[200,-8],[204,5],[208,-12],
  [212,1],[216,10],[220,-6],[224,-16],[228,7],[232,-3],[236,-9],[240,4],[245,15],[248,-1],[251,-11],
  [254,8],[257,-5],[260,2],[263,-14],[266,11],[269,-7],[272,0],[275,-12],[278,6],[281,-3],[284,-9],
  [287,10],[290,-15],[293,3],[296,-5],[300,-19.5],[303,8],[306,-2],[309,-11],[311,15.3],[314,1],
  [317,-8],[320,-23],[322,-36.5],[325,-29],[329,-13],[333,-4]
];
const diff2021 = [
  [23,-10],[26,-19],[29,7.5],[31,-27],[34,-2.5],[36,-14],[38,-33],[40,-40],[42,-22],[44,-8],[46,-29],
  [48,-16],[51,-37],[53,-25],[56,-37.5],[58,-12],[61,-20],[64,-31],[67,-5],[70,-17],[73,-24],[76,-9],
  [79,-28],[82,-14],[85,-3],[88,-21],
  [92,-11],[95,4.5],[98,-18],[101,-6],[104,-25],[107,-13],[110,1],[113,-20],[116,-8],[119,-27],
  [122,-15],[125,8.5],[128,-4],[131,23.5],[133,-29.5],[136,-17],[139,-10],[142,-22],[145,-2],[148,-14],
  [151,-26],[154,-7],[157,-19],[160,-12],[163,-24],[166,-5],[169,-16],[172,-28],[175,-9],[178,-21],
  [181,-13],[183,-34],[186,-18],[189,-6],[192,-24],[195,-11],[198,-20],
  [201,-15],[204,-27],[207,-8],[210,-19],[213,-30],[216,-12],[219,-22],[222,-5],[225,-17],[228,-26],
  [231,-10],[234,-20],[237,-32],[240,-14],[243,-24],[246,-7],[249,-18],[252,-28],[255,-11],[258,-21],
  [261,-15],[264,-30],[267,-9],[270,-19],[273,-25],[276,-43.4],[279,-13],[282,-22],[285,-6],[288,-17],
  [291,-27],[294,-10],[296,4],[298,11.5],[301,-20],[304,-2],[306,-15],[309,37.1],[311,-4.5],[313,13.5],
  [315,50.2],[316,-35],[319,-12],[322,-24],[325,-8],[328,1],[331,-19],[334,-23],[338,-14],[342,-6],
  [347,-21]
];

const gomeByYear = [gome2013, gome2014, gome2015, gome2016, gome2017, gome2018, gome2019, gome2020, gome2021];
const gomeByYearB = [gome2013b, gome2014b, gome2015b, gome2016b, gome2017b, gome2018b, gome2019b, gome2020b, gome2021b];
const gbByYear = [gb2013, gb2014, gb2015, gb2016, gb2017, gb2018, gb2019, gb2020, gb2021];
const diffByYear = [diff2013, diff2014, diff2015, diff2016, diff2017, diff2018, diff2019, diff2020, diff2021];

// ---------------------------------------------------------------
// The time axis runs in months counted from January of the first year
// ---------------------------------------------------------------
const FIRST_YEAR = YEARS[0];
const N_MONTHS = YEARS.length * 12;

function monthPos(year, doy) {
  const len = (year % 4 === 0) ? 366 : 365;
  return (year - FIRST_YEAR) * 12 + (doy - 1) / len * 12;
}

const gomePoints = [], gbPoints = [], gbBars = [], diffPoints = [];
YEARS.forEach(function (year, k) {
  gomeByYear[k].forEach(function (v, i) {
    gomePoints.push([monthPos(year, GOME_FIRST_DOY_A + GOME_STEP_DAYS * i), v]);
  });
  gomeByYearB[k].forEach(function (v, i) {
    gomePoints.push([monthPos(year, GOME_FIRST_DOY_B + GOME_STEP_DAYS * i), v]);
  });
  gbByYear[k].forEach(function (row) {
    const x = monthPos(year, row[0]);
    gbPoints.push([x, row[1]]);
    gbBars.push([x, row[1] - row[2], row[1] + row[2]]);
  });
  diffByYear[k].forEach(function (row) {
    diffPoints.push([monthPos(year, row[0]), row[1]]);
  });
});

// ---------------------------------------------------------------
// Styling helpers
// ---------------------------------------------------------------
const FONT = 'DejaVu Sans';
const INK = '#1f1f1f';
const TICK_STYLE = { color: '#222', width: 1.3 };
const MONTH_LINE_COLORS = [];
for (let i = 0; i < 12; i++) MONTH_LINE_COLORS.push(i === 0 ? '#3a3a3a' : '#d3d3d3');

function yearLabel(v) {
  if (v % 12 !== 6) return '';
  const idx = (v - 6) / 12;
  return idx >= 0 && idx < YEARS.length ? String(YEARS[idx]) : '';
}

function monthAxis(gridIndex, position, opts) {
  return {
    type: 'value', gridIndex: gridIndex, position: position,
    min: 0, max: N_MONTHS, interval: 1,
    axisLine: { show: false, onZero: false },
    axisTick: { show: true, inside: true, length: 8, lineStyle: TICK_STYLE },
    axisLabel: opts.labels ? {
      show: true, margin: opts.margin, formatter: yearLabel,
      fontFamily: FONT, fontSize: 28, fontWeight: 'bold', color: '#000'
    } : { show: false },
    splitLine: opts.grid ? { show: true, lineStyle: { color: MONTH_LINE_COLORS, width: 1.1 } } : { show: false },
    minorTick: { show: false, splitNumber: 2 },
    minorSplitLine: opts.grid ? { show: true, lineStyle: { color: '#dfdfdf', width: 1 } } : { show: false },
    axisPointer: { show: false }
  };
}

const tickLabelStyle = { fontFamily: FONT, fontSize: 24, color: INK };
const nameStyle = {
  fontFamily: FONT, fontSize: 29.5, color: INK,
  rich: { sup: { fontFamily: FONT, fontSize: 20, color: INK, padding: [0, 0, 16, 0] } }
};
const legendText = { fontFamily: FONT, fontSize: 21, color: INK };

// helper grid spanning only the labelled part of the difference axis
const DIFF_MIN = -60, DIFF_MAX = 60;
const DIFF_GRID = { left: 91, top: 605, width: 995, height: 400 };
const pxPerPct = DIFF_GRID.height / (DIFF_MAX - DIFF_MIN);
const tickGridTop = DIFF_GRID.top + (DIFF_MAX - DIFF_TICKS[DIFF_TICKS.length - 1]) * pxPerPct;
const tickGridHeight = (DIFF_TICKS[DIFF_TICKS.length - 1] - DIFF_TICKS[0]) * pxPerPct;

const option = {
  animation: false,
  backgroundColor: '#ffffff',
  title: {
    text: 'Total column BrO over Harestua (60°N, 11°E)',
    left: 588, top: 14, textAlign: 'center', padding: 0,
    textStyle: { fontFamily: FONT, fontSize: 34.5, fontWeight: 'bold', color: '#000' }
  },
  grid: [
    { left: 91, top: 50, width: 995, height: 398, show: true, borderColor: '#262626', borderWidth: 1.5, backgroundColor: '#fff', outerBoundsMode: 'none' },
    { left: DIFF_GRID.left, top: DIFF_GRID.top, width: DIFF_GRID.width, height: DIFF_GRID.height, show: true, borderColor: '#262626', borderWidth: 1.5, backgroundColor: '#fff', outerBoundsMode: 'none' },
    { left: DIFF_GRID.left, top: tickGridTop, width: DIFF_GRID.width, height: tickGridHeight, show: false, outerBoundsMode: 'none' }
  ],
  xAxis: [
    monthAxis(0, 'bottom', { labels: true, grid: true, margin: 10 }),
    monthAxis(0, 'top', { labels: false, grid: false }),
    monthAxis(1, 'bottom', { labels: true, grid: true, margin: 14 }),
    monthAxis(1, 'top', { labels: false, grid: false }),
    { type: 'value', gridIndex: 2, min: 0, max: N_MONTHS, show: false }
  ],
  yAxis: [
    {
      type: 'value', gridIndex: 0, position: 'left', z: 1,
      min: 0, max: 9, interval: COLUMN_TICKS[1] - COLUMN_TICKS[0],
      axisLine: { show: false, onZero: false },
      axisTick: { show: true, inside: true, length: 8, lineStyle: TICK_STYLE },
      axisLabel: {
        margin: 5, ...tickLabelStyle,
        formatter: function (v) { return COLUMN_TICKS.indexOf(v) >= 0 ? String(v) : ''; }
      },
      splitLine: { show: true, lineStyle: { color: ['rgba(0,0,0,0)', '#c4c4c4', '#c4c4c4', '#c4c4c4', '#c4c4c4', 'rgba(0,0,0,0)'], width: 1.1 } },
      name: 'BrO column (x10{sup|13} molec/cm{sup|2})',
      nameLocation: 'middle', nameGap: 19, nameTextStyle: nameStyle
    },
    {
      type: 'value', gridIndex: 0, position: 'right', z: 1,
      min: 0, max: 9, interval: COLUMN_TICKS[1] - COLUMN_TICKS[0],
      axisLine: { show: false, onZero: false },
      axisTick: { show: true, inside: true, length: 8, lineStyle: TICK_STYLE },
      axisLabel: { show: false }, splitLine: { show: false }
    },
    {
      type: 'value', gridIndex: 1, position: 'left', min: DIFF_MIN, max: DIFF_MAX,
      axisLine: { show: false, onZero: false }, axisTick: { show: false },
      axisLabel: { show: false }, splitLine: { show: false },
      name: '(GOME-2A - GB)/GB (%)', nameLocation: 'middle', nameGap: 53, nameTextStyle: nameStyle
    },
    {
      type: 'value', gridIndex: 2, position: 'left', z: 1,
      min: DIFF_TICKS[0], max: DIFF_TICKS[DIFF_TICKS.length - 1], interval: DIFF_TICKS[1] - DIFF_TICKS[0],
      axisLine: { show: false, onZero: false },
      axisTick: { show: true, inside: true, length: 8, lineStyle: TICK_STYLE },
      axisLabel: { margin: 5, ...tickLabelStyle },
      splitLine: { show: true, lineStyle: { color: ['#c4c4c4', '#c4c4c4', '#1e1e1e', '#c4c4c4', '#c4c4c4'], width: 1.5 } }
    },
    {
      type: 'value', gridIndex: 2, position: 'right', z: 1,
      min: DIFF_TICKS[0], max: DIFF_TICKS[DIFF_TICKS.length - 1], interval: DIFF_TICKS[1] - DIFF_TICKS[0],
      axisLine: { show: false, onZero: false },
      axisTick: { show: true, inside: true, length: 8, lineStyle: TICK_STYLE },
      axisLabel: { show: false }, splitLine: { show: false }
    }
  ],
  legend: [
    {
      data: ['GB', 'GOME-2A (GDP4.8 product)'], orient: 'vertical',
      left: 182, top: 369, itemWidth: 12, itemHeight: 11, itemGap: 6, padding: 0,
      selectedMode: false, z: 10,
      textStyle: Object.assign({ padding: [0, 0, 0, 54] }, legendText)
    },
    {
      data: ['GOME-2A - GB'], orient: 'horizontal',
      left: 827, top: 636, itemWidth: 12, itemHeight: 11, padding: 0,
      selectedMode: false, z: 10,
      textStyle: Object.assign({ padding: [0, 0, 0, 56] }, legendText)
    }
  ],
  graphic: [
    { type: 'rect', z: 9, shape: { x: 120, y: 362, width: 430, height: 63 }, style: { fill: '#fff', stroke: '#222', lineWidth: 1.5 } },
    { type: 'rect', z: 9, shape: { x: 767, y: 628, width: 293, height: 37 }, style: { fill: '#fff', stroke: '#222', lineWidth: 1.5 } }
  ],
  series: [
    {
      type: 'custom', name: 'GB uncertainty', xAxisIndex: 0, yAxisIndex: 0, z: 2, silent: true,
      data: gbBars, encode: { x: 0, y: [1, 2] }, clip: true,
      renderItem: function (params, api) {
        const x = api.value(0);
        const lo = api.coord([x, api.value(1)]);
        const hi = api.coord([x, api.value(2)]);
        return { type: 'line', shape: { x1: lo[0], y1: lo[1], x2: hi[0], y2: hi[1] }, style: { stroke: '#000', lineWidth: 1.1 } };
      }
    },
    {
      type: 'scatter', name: 'GB', xAxisIndex: 0, yAxisIndex: 0, z: 3, silent: true,
      symbol: 'triangle', symbolSize: [12, 11], data: gbPoints,
      itemStyle: { color: '#ffffff', borderColor: '#000000', borderWidth: 1.4, opacity: 1 }
    },
    {
      type: 'scatter', name: 'GOME-2A (GDP4.8 product)', xAxisIndex: 0, yAxisIndex: 0, z: 4, silent: true,
      symbol: 'circle', symbolSize: 10, data: gomePoints, large: false, progressive: 0,
      itemStyle: { color: '#f5b8f5', borderColor: '#e41ee4', borderWidth: 1.3, opacity: 1 }
    },
    {
      type: 'scatter', name: 'GOME-2A - GB', xAxisIndex: 2, yAxisIndex: 2, z: 4, silent: true,
      symbol: 'circle', symbolSize: 9.5, data: diffPoints,
      itemStyle: { color: 'rgba(255,255,255,0)', borderColor: '#d02ed0', borderWidth: 1.5, opacity: 1 }
    }
  ]
};

const chart = echarts.init(document.getElementById('chart'), null, { renderer: 'canvas', width: 1089, height: 1048 });
chart.setOption(option);
</script>
</body>
</html>
